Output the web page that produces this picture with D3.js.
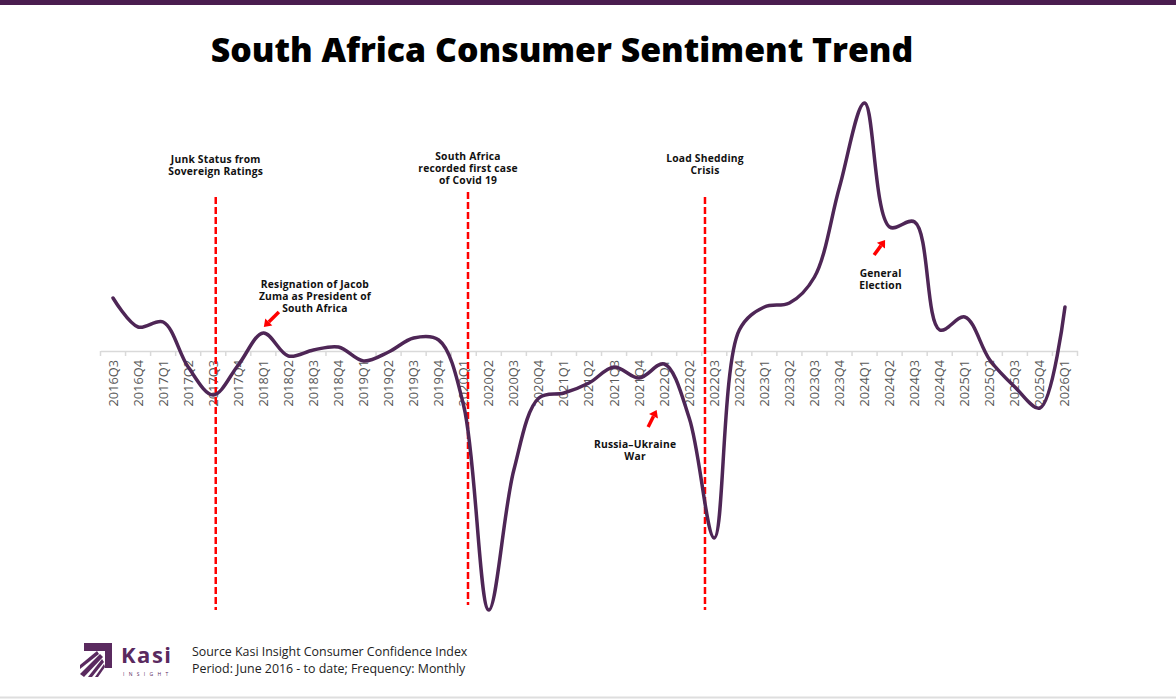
<!DOCTYPE html>
<html>
<head>
<meta charset="utf-8">
<script src="https://cdnjs.cloudflare.com/ajax/libs/d3/7.8.5/d3.min.js"></script>
</head>
<style>
body {
    margin: 0;
    background: #fff;
}
svg text {
    font-family: "Open Sans", "DejaVu Sans", sans-serif;
}
.note {
    font-size: 10.3px;
    font-weight: 700;
    letter-spacing: 0.2px;
    fill: #111;
}
</style>
<body>
<svg id="chart"></svg>
<script>

const W = 1176, H = 700;

// quarters on the axis
const quarters = [
    '2016Q3', '2016Q4', '2017Q1', '2017Q2', '2017Q3', '2017Q4',
    '2018Q1', '2018Q2', '2018Q3', '2018Q4', '2019Q1', '2019Q2',
    '2019Q3', '2019Q4', '2020Q1', '2020Q2', '2020Q3', '2020Q4',
    '2021Q1', '2021Q2', '2021Q3', '2021Q4', '2022Q1', '2022Q2',
    '2022Q3', '2022Q4', '2023Q1', '2023Q2', '2023Q3', '2023Q4',
    '2024Q1', '2024Q2', '2024Q3', '2024Q4', '2025Q1', '2025Q2',
    '2025Q3', '2025Q4', '2026Q1'
];

// sentiment index (net points)
const sentiment = [
    10.6, 4.8, 5.8, -3.2, -8.8, -2.8,
    3.6, -1.0, 0.2, 0.8, -2.0, -0.2,
    2.6, 2.2, -11.0, -51.8, -23.8, -9.4,
    -8.4, -6.4, -3.2, -5.4, -2.6, -13.4,
    -37.4, 4.2, 8.8, 9.6, 14.8, 32.8,
    49.6, 24.8, 25.8, 4.2, 6.8, -1.8,
    -7.2, -11.4, 8.8
];

// dashed event markers: position in quarters (index), top / bottom values, label value
const events = [
    { at: 4.1, top: 30.8, bottom: -51.8, label: 37.6, lines: ['Junk Status from', 'Sovereign Ratings'] },
    { at: 14.17, top: 31.8, bottom: -50.8, label: 38.2, lines: ['South Africa', 'recorded first case', 'of Covid 19'] },
    { at: 23.63, top: 30.8, bottom: -51.8, label: 37.8, lines: ['Load Shedding', 'Crisis'] }
];

// arrow callouts: text block, arrow tail and head
const callouts = [
    { at: 8.06, val: 12.6, lines: ['Resignation of Jacob', 'Zuma as President of', 'South Africa'],
      tail: [6.62, 7.8], head: [6.02, 4.8] },
    { at: 20.84, val: -19.4, lines: ['Russia\u2013Ukraine', 'War'],
      tail: [21.36, -15.2], head: [21.7, -11.8] },
    { at: 30.64, val: 14.8, lines: ['General', 'Election'],
      tail: [30.38, 19.2], head: [30.82, 22.2] }
];

const svg = d3.select('#chart')
    .attr('width', W)
    .attr('height', H);

// top bar and bottom rule
svg.append('rect')
    .attr('x', 0).attr('y', 0)
    .attr('width', W).attr('height', 5)
    .attr('fill', '#4a1d4f');

svg.append('line')
    .attr('x1', 0).attr('x2', W)
    .attr('y1', 697.5).attr('y2', 697.5)
    .attr('stroke', '#dedede')
    .attr('stroke-width', 2);

// title, fitted to the width it has in the original
const title = svg.append('text')
    .attr('x', 562)
    .attr('y', 62)
    .attr('text-anchor', 'middle')
    .style('font-weight', 800)
    .style('font-size', '30px')
    .attr('fill', '#000')
    .text('South Africa Consumer Sentiment Trend');
const tw = title.node().getComputedTextLength();
title.style('font-size', (30 * 703 / tw).toFixed(2) + 'px');

// scales
const x = d3.scaleBand()
    .domain(quarters)
    .range([100.5, 1077.5]);

const xi = d3.scaleLinear()
    .domain([-0.5, quarters.length - 0.5])
    .range([100.5, 1077.5]);

const y = d3.scaleLinear()
    .domain([-60, 60])
    .range([651, 51]);

// axis at zero
const axis = svg.append('g')
    .attr('transform', `translate(0,${y(0)})`)
    .call(d3.axisBottom(x).tickSize(5).tickSizeOuter(0).tickPadding(6));

axis.select('.domain').attr('stroke', '#d9d9d9').attr('stroke-width', 1.5);
axis.selectAll('.tick line')
    .attr('stroke', '#d9d9d9')
    .attr('stroke-width', 1.5)
    .attr('transform', `translate(${-x.bandwidth() / 2},0)`);
axis.append('line')
    .attr('x1', x.range()[1]).attr('x2', x.range()[1])
    .attr('y1', 0).attr('y2', 5)
    .attr('stroke', '#d9d9d9').attr('stroke-width', 1.5);
axis.selectAll('.tick text')
    .attr('fill', '#595959')
    .style('font-size', '12.8px')
    .attr('text-anchor', 'end')
    .attr('dy', '0.35em')
    .attr('transform', 'rotate(-90)')
    .attr('x', -9)
    .attr('y', 0);

// event lines
svg.append('g').selectAll('line')
    .data(events)
    .join('line')
    .attr('x1', d => xi(d.at)).attr('x2', d => xi(d.at))
    .attr('y1', d => y(d.top)).attr('y2', d => y(d.bottom))
    .attr('stroke', '#ff0000')
    .attr('stroke-width', 2.5)
    .attr('stroke-dasharray', '7,3');

function block(g, cx, firstBaseline, lines) {
    const t = g.append('text')
        .attr('class', 'note')
        .attr('text-anchor', 'middle');
    lines.forEach((s, i) => {
        t.append('tspan')
            .attr('x', cx)
            .attr('y', firstBaseline + i * 12)
            .text(s);
    });
}

const notes = svg.append('g');
events.forEach(d => {
    block(notes, xi(d.at), y(d.label), d.lines);
});

callouts.forEach(d => {
    block(notes, xi(d.at), y(d.val), d.lines);
});

// red arrows
callouts.forEach(d => {
    const x0 = xi(d.tail[0]), y0 = y(d.tail[1]);
    const x1 = xi(d.head[0]), y1 = y(d.head[1]);
    const ang = Math.atan2(y1 - y0, x1 - x0);
    const len = 7, half = 5;
    const bx = x1 - len * Math.cos(ang), by = y1 - len * Math.sin(ang);
    notes.append('line')
        .attr('x1', x0).attr('y1', y0)
        .attr('x2', bx).attr('y2', by)
        .attr('stroke', '#ff0000')
        .attr('stroke-width', 3.5);
    notes.append('path')
        .attr('d', `M${x1},${y1}L${bx + half * Math.sin(ang)},${by - half * Math.cos(ang)}L${bx - half * Math.sin(ang)},${by + half * Math.cos(ang)}Z`)
        .attr('fill', '#ff0000');
});

// the sentiment line
const line = d3.line()
    .x((d, i) => x(quarters[i]) + x.bandwidth() / 2)
    .y(d => y(d))
    .curve(d3.curveCatmullRom.alpha(0.5));

svg.append('path')
    .datum(sentiment)
    .attr('d', line)
    .attr('fill', 'none')
    .attr('stroke', '#4e2656')
    .attr('stroke-width', 3.5)
    .attr('stroke-linejoin', 'round')
    .attr('stroke-linecap', 'round');

// footer: logo and source
const logo = svg.append('g').attr('fill', '#5a2a5f');
logo.append('path')
    .attr('d', 'M84,643 L112,643 L112,668 L105,668 L105,651 L84,651 Z');
logo.append('path')
    .attr('d', 'M80,665 L97,651 L99,654 L80,669 Z');
logo.append('path')
    .attr('d', 'M80,674 L100,654 L103,657 L84,677 Z');
logo.append('path')
    .attr('d', 'M88,677 L102,659 L104,662 L92,677 Z');
logo.append('path')
    .attr('d', 'M95,677 L104,664 L105,667 L98,677 Z');
logo.append('text')
    .attr('x', 121)
    .attr('y', 663)
    .style('font-size', '22px')
    .style('font-weight', 700)
    .style('letter-spacing', '1.5px')
    .attr('fill', '#5a2a5f')
    .text('Kasi');
logo.append('text')
    .attr('x', 123)
    .attr('y', 676)
    .style('font-size', '5px')
    .style('letter-spacing', '4.3px')
    .attr('fill', '#5a2a5f')
    .text('INSIGHT');

const foot = svg.append('text')
    .attr('fill', '#222')
    .style('font-size', '12.4px');
foot.append('tspan').attr('x', 192).attr('y', 656)
    .text('Source Kasi Insight Consumer Confidence Index');
foot.append('tspan').attr('x', 192).attr('y', 673)
    .text('Period: June 2016 - to date; Frequency: Monthly');

</script>
</body>
</html>
